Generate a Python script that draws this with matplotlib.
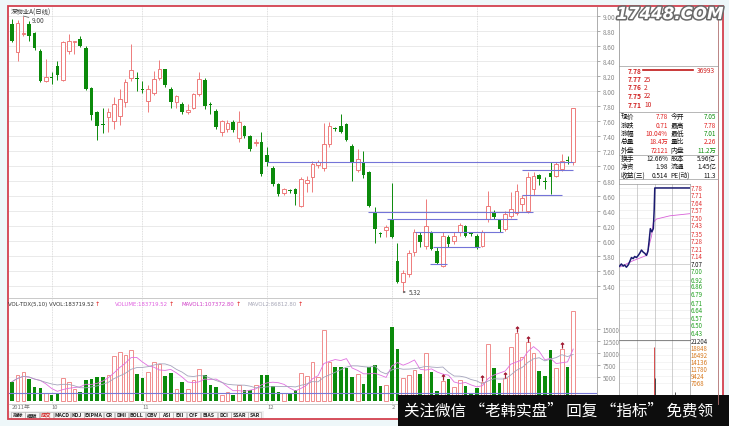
import numpy as np
import pandas as pd
import matplotlib
matplotlib.use("Agg")
import matplotlib.pyplot as plt
from matplotlib.patches import Rectangle
import matplotlib.patheffects as pe
import matplotlib.transforms as mtrans

plt.rcParams['font.family'] = ['Noto Sans CJK SC', 'DejaVu Sans']

W, H = 729, 427

# ---- daily candles ----
opens = [8.89, 8.52, 8.76, 8.89, 8.77, 8.54, 8.14, 8.19, 8.34, 8.15,
         8.54, 8.66, 8.69, 8.58, 8.04, 7.72, 7.56, 7.65, 7.60, 7.67,
         7.86, 8.17, 8.18, 8.03, 7.87, 7.97, 8.18, 8.29, 8.03, 7.86,
         7.83, 7.72, 7.78, 7.96, 8.15, 7.82, 7.74, 7.45, 7.49, 7.59,
         7.37, 7.53, 7.40, 7.31, 7.32, 7.15, 6.98, 6.76, 6.64, 6.68,
         6.69, 6.47, 6.77, 6.85, 7.02, 6.98, 7.29, 7.50, 7.54, 7.56,
         7.27, 6.95, 7.04, 6.92, 6.38, 6.10, 6.15, 6.28, 5.74, 5.46,
         5.56, 5.85, 6.08, 5.93, 6.12, 5.87, 5.67, 6.05, 6.00, 6.12,
         6.20, 6.10, 6.07, 5.94, 6.29, 6.38, 6.28, 6.16, 6.33, 6.38,
         6.49, 6.40, 6.69, 6.88, 6.80, 6.91, 6.87, 6.96, 7.08, 7.05]
closes = [8.67, 8.91, 8.78, 8.74, 8.57, 8.14, 8.19, 8.18, 8.21, 8.65,
          8.67, 8.67, 8.60, 8.03, 7.68, 7.53, 7.55, 7.72, 7.83, 7.90,
          8.12, 8.28, 8.16, 8.02, 8.03, 8.16, 8.29, 8.08, 7.85, 7.93,
          7.72, 7.75, 7.96, 8.16, 7.80, 7.81, 7.52, 7.60, 7.58, 7.48,
          7.59, 7.40, 7.23, 7.32, 6.89, 7.05, 6.76, 6.63, 6.69, 6.67,
          6.63, 6.83, 6.82, 7.03, 7.05, 7.29, 7.54, 7.49, 7.46, 7.35,
          7.04, 7.09, 6.88, 6.47, 6.16, 6.09, 6.19, 6.06, 5.46, 5.58,
          5.84, 6.12, 5.99, 6.20, 5.90, 5.71, 6.07, 5.96, 6.07, 6.21,
          6.07, 6.09, 5.92, 6.12, 6.47, 6.32, 6.16, 6.36, 6.43, 6.67,
          6.58, 6.85, 6.87, 6.83, 6.79, 6.86, 7.03, 7.07, 7.07, 7.78]
highs = [8.96, 8.95, 9.00, 8.94, 8.79, 8.56, 8.43, 8.25, 8.40, 8.67,
         8.76, 8.67, 8.74, 8.60, 8.05, 7.74, 7.77, 7.78, 7.92, 8.03,
         8.16, 8.63, 8.25, 8.14, 8.08, 8.27, 8.42, 8.30, 8.05, 7.95,
         7.85, 7.83, 7.98, 8.25, 8.18, 7.85, 7.76, 7.62, 7.62, 7.61,
         7.74, 7.55, 7.42, 7.36, 7.45, 7.25, 7.00, 6.78, 6.71, 6.70,
         6.71, 6.85, 6.87, 7.07, 7.08, 7.58, 7.59, 7.52, 7.69, 7.58,
         7.30, 7.23, 7.20, 6.94, 6.45, 6.12, 6.22, 6.78, 5.98, 5.62,
         5.88, 6.16, 6.12, 6.56, 6.14, 5.92, 6.12, 6.08, 6.12, 6.24,
         6.22, 6.11, 6.09, 6.15, 6.67, 6.41, 6.30, 6.40, 6.65, 6.76,
         6.62, 6.92, 6.92, 6.90, 6.85, 7.05, 7.06, 7.16, 7.14, 7.78]
lows = [8.66, 8.40, 8.73, 8.67, 8.55, 8.12, 8.12, 8.09, 8.15, 8.13,
        8.50, 8.50, 8.59, 8.01, 7.61, 7.35, 7.44, 7.45, 7.49, 7.55,
        7.79, 8.14, 8.00, 7.98, 7.72, 7.95, 8.15, 8.05, 7.78, 7.77,
        7.70, 7.70, 7.76, 7.94, 7.76, 7.69, 7.50, 7.40, 7.46, 7.46,
        7.32, 7.38, 7.20, 7.27, 6.87, 7.00, 6.74, 6.60, 6.62, 6.64,
        6.48, 6.46, 6.65, 6.65, 6.98, 6.94, 7.25, 7.47, 7.44, 7.33,
        6.80, 6.92, 6.84, 6.45, 5.98, 6.06, 6.06, 6.04, 5.44, 5.32,
        5.52, 5.80, 5.92, 5.90, 5.88, 5.69, 5.65, 5.92, 5.96, 6.07,
        6.05, 6.07, 5.90, 5.92, 6.25, 6.30, 6.12, 6.14, 6.31, 6.35,
        6.40, 6.37, 6.62, 6.75, 6.69, 6.63, 6.85, 6.94, 7.03, 7.01]
volumes = [4020, 5420, 5970, 4580, 2850, 2640, 1670, 1250, 1670, 4720,
           3890, 2500, 1940, 4370, 4580, 4930, 4930, 5420, 9440, 10140,
           9580, 10620, 5620, 4720, 6110, 8190, 7710, 5140, 5760, 2500,
           3890, 2500, 4440, 6670, 5420, 3330, 2990, 1250, 1940, 1250,
           3330, 2360, 2360, 3330, 5420, 5420, 3060, 1800, 1600, 1600,
           2360, 5830, 5140, 8190, 4930, 14860, 8190, 7010, 7150, 6940,
           5070, 5620, 3540, 7150, 7500, 3060, 3330, 15350, 10830, 4720,
           5420, 6460, 5620, 10000, 5970, 2150, 4240, 4580, 2850, 4440,
           3190, 1670, 2640, 4020, 11870, 6810, 3750, 4720, 11180, 14170,
           9100, 12220, 10000, 6320, 5280, 10620, 6810, 10830, 7150, 18690]
signal_days = [76, 83, 87, 89, 91, 97]

# drawn support / resistance segments: (from day, to day, price)
level_lines = [(44.9, 99.0, 7.05), (62.8, 91.9, 6.39), (66.1, 89.1, 6.29),
               (71.1, 86.6, 6.12), (74.3, 82.5, 5.92), (73.7, 76.7, 5.70),
               (90.0, 99.0, 6.95), (90.0, 97.0, 6.62)]

grid_days = [7, 23, 45, 67, 82]
month_days = [0, 7, 23, 45, 67]
month_labels = ["2011年", "10", "11", "12", "2"]

# ---- right side panel ----
book_prices = ["7.78", "7.77", "7.76", "7.75", "7.71"]
book_vols = [36993, 25, 2, 22, 10]
info_rows = [("现价", "7.78", "今开", "7.05"),
             ("涨跌", "0.71", "最高", "7.78"),
             ("涨幅", "10.04%", "最低", "7.01"),
             ("总量", "18.4万", "量比", "2.26"),
             ("外盘", "72121", "内盘", "11.2万"),
             ("换手", "12.66%", "股本", "5.96亿"),
             ("净资", "1.98", "流通", "1.45亿"),
             ("收益(三)", "0.514", "PE(动)", "11.3")]
info_colors = [("#e02020", "#109010"), ("#e02020", "#e02020"), ("#e02020", "#109010"),
               ("#e02020", "#e02020"), ("#e02020", "#109010"), ("#111111", "#111111"),
               ("#111111", "#111111"), ("#111111", "#111111")]

# intraday (minutes from open)
tick_min = [2, 8, 14, 19, 25, 31, 36, 42, 48, 53, 59, 65, 70, 76, 82, 87, 93,
            98, 102, 106, 111, 116, 119, 121, 240]
tick_price = [7.05, 7.07, 7.05, 7.06, 7.04, 7.06, 7.09, 7.13, 7.12, 7.14, 7.13,
              7.15, 7.17, 7.20, 7.18, 7.17, 7.15, 7.19, 7.29, 7.40, 7.37, 7.40,
              7.58, 7.78, 7.78]
avg_min = [2, 47, 93, 110, 116, 127, 172, 240]
avg_price = [7.04, 7.10, 7.15, 7.33, 7.46, 7.49, 7.52, 7.54]
intra_levels = [7.78, 7.71, 7.64, 7.57, 7.50, 7.43, 7.35, 7.28, 7.21, 7.14, 7.07,
                7.00, 6.92, 6.86, 6.79, 6.71, 6.64, 6.57, 6.50, 6.43]
prev_close = 7.07
intra_vol_min = [119, 123, 189]
intra_vol = [19185, 8750, 4040]
intra_vol_ticks = [21204, 18848, 16492, 14136, 11780, 9424, 7068]

UP_C = '#ee7b7b'
DN_C = '#0b8a0b'
GRID = '#e6e6e6'


def px_axes(x0, y0, x1, y1, z=1):
    a = fig.add_axes([x0 / W, 1 - y1 / H, (x1 - x0) / W, (y1 - y0) / H])
    a.set_zorder(z)
    return a


def price_at(y):
    return 7 - (y - 167) / 75.0


fig = plt.figure(figsize=(W / 100, H / 100), dpi=100)
fig.patch.set_facecolor('#eef7f9')

bg = px_axes(0, 0, W, H, z=0)
bg.set_xlim(0, W)
bg.set_ylim(H, 0)
bg.axis('off')
bg.add_patch(Rectangle((8, 7), 715, 413, facecolor='white', edgecolor='none'))

o = np.array(opens)
c = np.array(closes)
h = np.array(highs)
l = np.array(lows)
v = np.array(volumes, dtype=float)
days = np.arange(len(o))
up = c >= o

# ---- price panel ----
ax = px_axes(9, 8, 597, 299)
ax.set_facecolor('none')
ax.set_xlim(-0.53, 103.2)
ax.set_ylim(price_at(299), price_at(8))
yt = np.round(np.arange(5.4, 9.01, 0.2), 2)
for p in yt:
    ax.axhline(p, color=GRID, lw=0.6, zorder=0)
for m in grid_days:
    ax.axvline(m, color='#d4d4d4', lw=0.6, ls=(0, (1, 1)), zorder=0)
ax.vlines(days, l, h, colors=np.where(up, UP_C, DN_C), lw=0.7, zorder=2)
bot = np.minimum(o, c)
bh = np.maximum(np.abs(c - o), 0.012)
ax.bar(days[up], bh[up], bottom=bot[up], width=0.64, facecolor='white',
       edgecolor=UP_C, linewidth=0.7, zorder=3)
ax.bar(days[~up], bh[~up], bottom=bot[~up], width=0.64, color=DN_C,
       linewidth=0, zorder=3)
for x0, x1, p in level_lines:
    ax.hlines(p, x0, x1, colors='#7474d8', lw=0.8, zorder=4)
hi = int(np.argmax(h))
lo = int(np.argmin(l))
ax.annotate('%.2f' % h[hi], xy=(hi, h[hi]), xytext=(6, -2.8), textcoords='offset points',
            fontsize=4.6, color='#444444', va='center',
            arrowprops=dict(arrowstyle='-', lw=0.5, color='#555555', shrinkA=0, shrinkB=0))
ax.annotate('%.2f' % l[lo], xy=(lo, l[lo]), xytext=(4, 0), textcoords='offset points',
            fontsize=4.6, color='#444444', va='center',
            arrowprops=dict(arrowstyle='<-', lw=0.5, color='#555555', shrinkA=0, shrinkB=0,
                            mutation_scale=3))
ax.yaxis.tick_right()
ax.set_yticks(yt)
ax.set_yticklabels(['%.2f' % p for p in yt])
ax.tick_params(axis='y', labelsize=4.6, colors='#8a8a8a', length=2, pad=2, width=0.5)
ax.set_xticks([])
for s in ['left', 'top']:
    ax.spines[s].set_visible(False)
ax.spines['right'].set_color('#a0a0a0')
ax.spines['bottom'].set_color('#c0c0c0')
for s in ['right', 'bottom']:
    ax.spines[s].set_linewidth(0.6)

# ---- volume panel ----
av = px_axes(9, 299, 597, 405)
av.set_facecolor('none')
av.set_xlim(-0.53, 103.2)
av.set_ylim(-625, 21458)
for t in [5000, 7500, 10000, 12500, 15000]:
    av.axhline(t, color='#efefef', lw=0.5, zorder=0)
for m in grid_days:
    av.axvline(m, color='#d4d4d4', lw=0.6, ls=(0, (1, 1)), zorder=0)
av.bar(days[up], v[up], width=0.64, facecolor='white', edgecolor='#f08d8d',
       linewidth=0.7, zorder=3)
av.bar(days[~up], v[~up], width=0.64, color=DN_C, linewidth=0, zorder=3)
ma5 = pd.Series(v).rolling(5, min_periods=1).mean()
ma10 = pd.Series(v).rolling(10, min_periods=1).mean()
av.plot(days, ma5, color='#e070e0', lw=0.6, zorder=4)
av.plot(days, ma10, color='#a4a4bc', lw=0.6, zorder=4)
av.axhline(1700, color='#7a7ad8', lw=0.8, zorder=4)
sd = np.array(signal_days)
av.scatter(sd, v[sd] + 800, marker='$\u2191$', s=16, color='#a01830', zorder=5, linewidths=0.4)
av.yaxis.tick_right()
av.set_yticks([5000, 7500, 10000, 12500, 15000])
av.tick_params(axis='y', labelsize=4.4, colors='#8a8a8a', length=2, pad=2, width=0.5)
av.set_xticks([])
for s in ['left', 'top']:
    av.spines[s].set_visible(False)
av.spines['right'].set_color('#a0a0a0')
av.spines['bottom'].set_color('#c0c0c0')
for s in ['right', 'bottom']:
    av.spines[s].set_linewidth(0.6)
tr = mtrans.blended_transform_factory(av.transData, av.transAxes)
for m, lab in zip(month_days, month_labels):
    av.text(m, -0.028, lab, transform=tr, fontsize=4.2, color='#777777', va='center', ha='left')

# ---- intraday chart ----
ai = px_axes(619, 185, 690, 341, z=2)
ai.set_facecolor('white')
ai.set_xlim(0, 240)
ai.set_ylim(6.36, 7.817)
for p in intra_levels:
    ai.axhline(p, color='#ececec', lw=0.5, zorder=0)
ai.axhline(prev_close, color='#c8c8c8', lw=0.5, zorder=0)
for m in [60, 120, 180]:
    ai.axvline(m, color='#bcbcbc', lw=0.5, zorder=0)
ai.plot(avg_min, avg_price, color='#d860d8', lw=0.6, zorder=2)
ai.plot(tick_min, tick_price, color='#1a1a70', lw=1.1, zorder=3)
ai.set_xticks([])
ai.set_yticks([])
for s in ai.spines.values():
    s.set_color('#9a9a9a')
    s.set_linewidth(0.5)
for p in intra_levels:
    col = '#e03030' if p > prev_close else ('#111111' if p == prev_close else '#20a020')
    ai.text(243, p, '%.2f' % p, fontsize=4.4, color=col, va='center', ha='left', clip_on=False)

aiv = px_axes(619, 341, 690, 405, z=2)
aiv.set_facecolor('white')
aiv.set_xlim(0, 240)
aiv.set_ylim(0, 21204 * 64 / 63)
for t in intra_vol_ticks:
    aiv.axhline(t, color='#f0f0f0', lw=0.5, zorder=0)
for m in [60, 120, 180]:
    aiv.axvline(m, color='#bcbcbc', lw=0.5, zorder=0)
aiv.vlines(intra_vol_min, 0, intra_vol, colors=['#d03030', '#333333', '#333333'], lw=0.6)
aiv.set_xticks([])
aiv.set_yticks([])
for s in aiv.spines.values():
    s.set_color('#9a9a9a')
    s.set_linewidth(0.5)
aiv.spines['top'].set_color('#555555')
for i, t in enumerate(intra_vol_ticks):
    aiv.text(243, t, str(t), fontsize=4.4, color='#222222' if i == 0 else '#d77a20',
             va='center', ha='left', clip_on=False)

# ---- overlay: frames, texts, watermarks ----
top = px_axes(0, 0, W, H, z=10)
top.set_facecolor('none')
top.set_xlim(0, W)
top.set_ylim(H, 0)
top.axis('off')

top.text(11, 12.5, '深物业A(日线)', fontsize=4.6, color='#333333', va='center', ha='left')

top.plot([619, 619], [8, 185], color='#9a9a9a', lw=0.6)
top.plot([718, 718], [8, 405], color='#b07070', lw=0.6)
for y in [67, 113, 155.5, 180]:
    top.plot([619, 718], [y, y], color='#9a9a9a', lw=0.5)

# order book
for i, (p, q) in enumerate(zip(book_prices, book_vols)):
    y = 71 + i * 8.5
    top.text(628, y, p, fontsize=4.8, color='#d02020', style='italic', va='center', fontweight='bold')
    blen = 50.0 * q / max(book_vols)
    if blen > 1:
        top.plot([643, 643 + blen], [y, y], color='#c01818', lw=1.2)
        top.text(697, y, str(q), fontsize=4.8, color='#d02020', va='center')
    else:
        top.text(644, y, str(q), fontsize=4.8, color='#d02020', va='center', style='italic')

# quote table
for i, (l1, v1, l2, v2) in enumerate(info_rows):
    y = 117.3 + i * 8.35
    top.text(621, y, l1, fontsize=4.9, color='#111111', va='center')
    top.text(668, y, v1, fontsize=4.6, color=info_colors[i][0], va='center', ha='right')
    top.text(670.5, y, l2, fontsize=4.9, color='#111111', va='center')
    top.text(716, y, v2, fontsize=4.6, color=info_colors[i][1], va='center', ha='right')

# volume header
hdr = [("VOL-TDX(5,10) VVOL:183719.52", '#333333', 8),
       ("VOLUME:183719.52", '#e060e0', 115),
       ("MAVOL1:107372.80", '#d040c8', 182),
       ("MAVOL2:86812.80", '#a8a8b8', 248)]
for txt, col, x0 in hdr:
    t = top.text(x0, 305, txt, fontsize=3.9, color=col, va='center', family='DejaVu Sans')
    top.annotate('\u2191', xy=(1, 0.5), xycoords=t, xytext=(0.6, 0), textcoords='offset points',
                 fontsize=4.6, color='#e02020', va='center', ha='left', family='DejaVu Sans')

# tab bar
tabs = ['指标', '模板', '成交', 'MACD', 'KDJ', 'EXPMA', 'CR', 'DMI', 'BOLL', 'OBV',
        'ASI', 'EXI', 'CYF', 'BIAS', 'DCI', 'SSAR', 'SAR']
widths = []
for t in tabs:
    if all(ord(ch) > 255 for ch in t):
        widths.append(13.0)
    else:
        widths.append(2.7 * len(t) + 4.5)
scale = (262 - 11) / sum(widths)
top.add_patch(Rectangle((9, 412), 255, 8, facecolor='#f0f0f0', edgecolor='none'))
x = 11
for t, w in zip(tabs, widths):
    w = w * scale
    top.add_patch(Rectangle((x, 412.5), w - 0.6, 7, facecolor='#f7f7f7', edgecolor='#a8a8a8', lw=0.4))
    top.text(x + (w - 0.6) / 2, 416, t, fontsize=3.8, ha='center', va='center',
             color='#d02020' if t == '成交' else '#222222', fontweight='bold')
    x += w

# red outer frame
top.add_patch(Rectangle((8, 7), 715, 413, fill=False, edgecolor='#d3414f', lw=1.3))

# watermarks
top.text(670, 15, '17448.COM', fontsize=12, fontweight='bold', style='italic', color='white',
         ha='center', va='center', family='DejaVu Sans',
         path_effects=[pe.withStroke(linewidth=2.2, foreground='#6a6a6a')])
top.add_patch(Rectangle((398, 396), 331, 31, facecolor='#0d0d0d', edgecolor='none'))
top.text(404, 411.5, '关注微信 “老韩实盘” 回复 “指标” 免费领', fontsize=11.2, color='white',
         ha='left', va='center')

fig.savefig('out.png', dpi=100, facecolor=fig.get_facecolor())
